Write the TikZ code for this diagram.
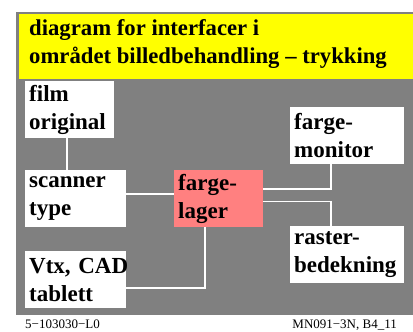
\documentclass[tikz,border=0pt]{standalone}
\usepackage{fontspec}
\setmainfont{Liberation Serif}
\definecolor{bggray}{HTML}{808080}
\definecolor{titleyellow}{HTML}{FFFF00}
\definecolor{lagerpink}{HTML}{FF8080}
\begin{document}
\begin{tikzpicture}[x=1pt,y=-1pt,
  box/.style={fill=white, draw=none, anchor=north west, inner xsep=4pt, inner ysep=0pt,
     align=left, font=\fontsize{23}{28}\selectfont\bfseries},
  link/.style={draw=white, line width=1.5pt},
  foot/.style={font=\fontsize{13}{15}\selectfont, inner sep=0pt}]
\useasboundingbox (0,0) rectangle (413,332);
\fill[bggray] (16,12) rectangle (413,314.5);
\fill[titleyellow] (19,14) rectangle (413,79);
\node[anchor=north west, inner sep=0pt, align=left, font=\fontsize{22.7}{28}\selectfont\bfseries] (title) at (29,19.5)
  {diagram for interfacer i\\området billedbehandling – trykking};
\node[box, text width=81pt, minimum height=57pt] (film) at (25,81) {film\\original};
\node[box, text width=106pt, minimum height=57pt] (monitor) at (290,107) {farge-\\monitor};
\node[box, text width=93pt, minimum height=57pt] (scanner) at (25,170) {scanner\\type};
\node[box, fill=lagerpink, text width=81pt, minimum height=57pt] (lager) at (174,170) {farge-\\lager};
\node[box, text width=106pt, minimum height=57pt] (raster) at (290,226) {raster-\\bedekning};
\node[box, text width=93pt, minimum height=57pt] (vtx) at (25,251) {Vtx,~CAD\\tablett};
\draw[link] (film.south -| 67,0) -- (scanner.north -| 67,0);
\draw[link] (scanner.east |- 0,194) -- (lager.west |- 0,194);
\draw[link] (lager.east |- 0,189) -| (monitor.south -| 331,0);
\draw[link] (lager.east |- 0,201.5) -| (raster.north -| 331,0);
\draw[link] (lager.south -| 205,0) |- (vtx.east |- 0,288);
\node[foot, anchor=base west] (code) at (25,328) {5−103030−L0};
\node[foot, anchor=base east] (ref) at (397,328) {MN091−3N, B4\_11};
\end{tikzpicture}
\end{document}
